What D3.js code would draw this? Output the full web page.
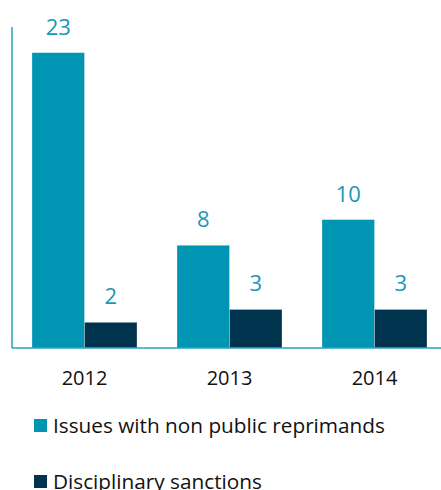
<!DOCTYPE html>
<html lang="en">
<head>
  <meta charset="utf-8">
  <title>Issues and sanctions</title>
  <script src="https://d3js.org/d3.v7.min.js"></script>
  <style>
    body { margin: 0; background: #fff; font-family: "Open Sans", "Noto Sans", Arial, sans-serif; }
    svg { display: block; }
  </style>
</head>
<body>
  <div id="chart"></div>
  <script>
    // Data
    const years = ["2012", "2013", "2014"];
    const seriesNames = ["Issues with non public reprimands", "Disciplinary sanctions"];
    const reprimands = [23, 8, 10];
    const sanctions = [2, 3, 3];
    const colors = ["#0095b3", "#00334e"];

    const width = 441, height = 490;
    const svg = d3.select("#chart").append("svg")
      .attr("width", width).attr("height", height);

    // Scales
    const x = d3.scaleBand().domain(years).range([12, 447])
      .paddingInner(0.276).paddingOuter(0.138);
    const x1 = d3.scaleBand().domain([0, 1]).range([0, x.bandwidth()]);
    const y = d3.scaleLinear().domain([0, 25]).range([348, 27]);

    const rows = years.map((yr, i) => ({ year: yr, values: [reprimands[i], sanctions[i]] }));

    const groups = svg.selectAll("g.year").data(rows).enter().append("g")
      .attr("class", "year")
      .attr("transform", d => `translate(${x(d.year)},0)`);

    groups.selectAll("rect").data(d => d.values).enter().append("rect")
      .attr("x", (d, i) => x1(i))
      .attr("y", d => y(d))
      .attr("width", x1.bandwidth())
      .attr("height", d => y(0) - y(d))
      .attr("fill", (d, i) => colors[i])
      .attr("stroke", "#ffffff")
      .attr("stroke-opacity", 0.35)
      .attr("stroke-width", 0.8);

    groups.selectAll("text.val").data(d => d.values).enter().append("text")
      .attr("class", "val")
      .attr("x", (d, i) => x1(i) + x1.bandwidth() / 2)
      .attr("y", d => y(d) - 18)
      .attr("text-anchor", "middle")
      .attr("fill", "#1a98b5")
      .style("font-size", "22px")
      .text(d => d);

    // Axes lines
    svg.append("line")
      .attr("x1", 12).attr("x2", 12).attr("y1", y(25)).attr("y2", y(0))
      .attr("stroke", "#2aa0bb").attr("stroke-width", 1.5);
    svg.append("line")
      .attr("x1", 12).attr("x2", width).attr("y1", y(0)).attr("y2", y(0))
      .attr("stroke", "#2aa0bb").attr("stroke-width", 1.5);

    // Year labels
    svg.selectAll("text.yr").data(years).enter().append("text")
      .attr("class", "yr")
      .attr("x", d => x(d) + x.bandwidth() / 2)
      .attr("y", 385)
      .attr("text-anchor", "middle")
      .attr("fill", "#111")
      .style("font-size", "20px")
      .text(d => d);

    // Legend
    const legend = svg.selectAll("g.leg").data(seriesNames).enter().append("g")
      .attr("class", "leg")
      .attr("transform", (d, i) => `translate(34,${419 + i * 56})`);
    legend.append("rect")
      .attr("width", 13).attr("height", 13)
      .attr("fill", (d, i) => colors[i]);
    legend.append("text")
      .attr("x", 19).attr("y", 14)
      .attr("fill", "#111")
      .style("font-size", "20.75px")
      .text(d => d);
  </script>
</body>
</html>
